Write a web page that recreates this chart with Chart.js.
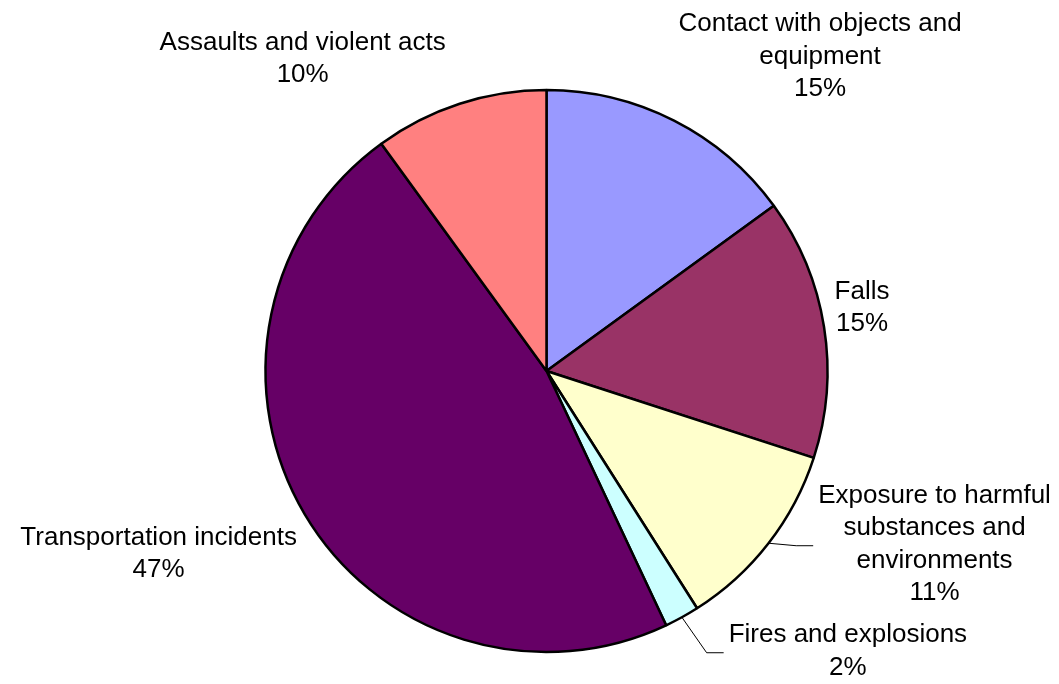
<!DOCTYPE html>
<html>
<head>
<meta charset="utf-8">
<script src="https://cdn.jsdelivr.net/npm/chart.js@4"></script>
<style>
  html, body { margin: 0; padding: 0; background: #fff; }
  #wrap { width: 1059px; height: 684px; }
</style>
</head>
<body>
<div id="wrap"><canvas id="injuryChart" width="1059" height="684"></canvas></div>
<script>
// Fatal injuries by event type (percent of total)
const categories = [
  ['Contact with objects and', 'equipment'],
  ['Falls'],
  ['Exposure to harmful', 'substances and', 'environments'],
  ['Fires and explosions'],
  ['Transportation incidents'],
  ['Assaults and violent acts']
];
const shares = [15, 15, 11, 2, 47, 10];
const sliceColors = ['#9999FF', '#993366', '#FFFFCC', '#CCFFFF', '#660066', '#FF8080'];

// where each label block sits, relative to the slice edge at its mid angle
const labelShift = [[146, -64], [38, -19], [166, 1], [166, 34], [-146, 40], [-157, -45]];
const hasLeader = [false, false, true, true, false, false];

const pieLabels = {
    id: 'pieLabels',
    afterDatasetsDraw(chart) {
        const ctx = chart.ctx;
        const meta = chart.getDatasetMeta(0);
        const lineH = 32.5;
        ctx.save();
        ctx.font = '26px "Liberation Sans", Arial, sans-serif';
        ctx.fillStyle = '#000';
        ctx.textAlign = 'center';
        ctx.textBaseline = 'middle';
        meta.data.forEach((arc, i) => {
            const p = arc.getProps(['x', 'y', 'startAngle', 'endAngle', 'outerRadius'], true);
            const mid = (p.startAngle + p.endAngle) / 2;
            const ex = p.x + Math.cos(mid) * p.outerRadius;
            const ey = p.y + Math.sin(mid) * p.outerRadius;
            const lines = categories[i].concat(shares[i] + '%');
            const cx = ex + labelShift[i][0];
            const cy = ey + labelShift[i][1];
            const top = cy - (lines.length - 1) * lineH / 2;
            lines.forEach((t, k) => ctx.fillText(t, cx, top + k * lineH));

            // thin elbow line from the slice edge to the label
            if (hasLeader[i]) {
                const w = Math.max(...lines.map(t => ctx.measureText(t).width));
                const left = cx - w / 2;
                ctx.beginPath();
                ctx.moveTo(ex, ey);
                ctx.lineTo(left - 22, cy + 1.5);
                ctx.lineTo(left - 5, cy + 1.5);
                ctx.strokeStyle = '#000';
                ctx.lineWidth = 1;
                ctx.stroke();
            }
        });
        ctx.restore();
    }
};

const ctx = document.getElementById('injuryChart').getContext('2d');
new Chart(ctx, {
    type: 'pie',
    data: {
        labels: categories.map(c => c.join(' ')),
        datasets: [{
            data: shares,
            backgroundColor: sliceColors,
            borderColor: '#000',
            borderWidth: 2.5,
            radius: 281
        }]
    },
    options: {
        responsive: false,
        animation: false,
        devicePixelRatio: 1,
        layout: { padding: { left: 34, top: 58, right: 0, bottom: 0 } },
        plugins: {
            legend: { display: false },
            tooltip: { enabled: false }
        }
    },
    plugins: [pieLabels]
});
</script>
</body>
</html>
